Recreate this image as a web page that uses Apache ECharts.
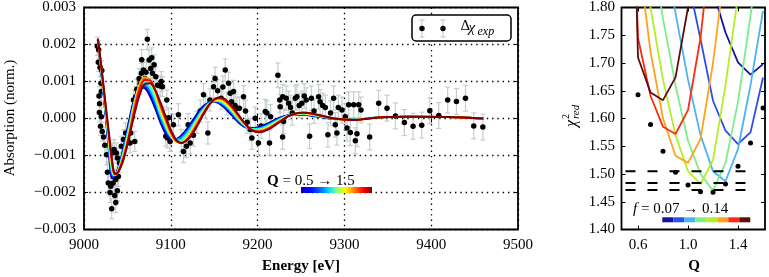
<!DOCTYPE html>
<html><head><meta charset="utf-8">
<script src="https://cdn.jsdelivr.net/npm/echarts@6/dist/echarts.min.js"></script>
<style>html,body{margin:0;padding:0;background:#fff}#c{width:769px;height:277px}</style>
</head><body><div id="c"></div>
<script>
// ---------- LEFT PANEL (absorption values in units of 0.001) ----------
const ENERGY = [9016,9020,9024,9028,9030,9032,9034,9036,9040,9046,9052,9058,9064,9070,9076,9082,9088,9094,9100,9106,9112,9120,9128,9136,9144,9150,9156,9162,9170,9178,9186,9194,9202,9212,9224,9238,9252,9268,9288,9310,9340,9375,9420,9460];
const FIT_Q0500 = [2.15,1.22,0.28,-0.72,-1.30,-1.62,-1.60,-1.54,-1.30,-0.72,-0.04,0.54,0.84,0.82,0.60,0.27,-0.11,-0.41,-0.57,-0.56,-0.46,-0.23,0.05,0.30,0.44,0.46,0.40,0.29,0.09,-0.11,-0.24,-0.26,-0.22,-0.13,0.01,0.10,0.10,0.05,-0.01,-0.03,0.03,0.05,0.04,0.00];
const FIT_Q0625 = [2.15,1.24,0.32,-0.66,-1.22,-1.55,-1.58,-1.54,-1.32,-0.76,-0.10,0.50,0.83,0.85,0.66,0.34,-0.04,-0.35,-0.54,-0.56,-0.49,-0.27,0.01,0.27,0.43,0.47,0.42,0.32,0.12,-0.08,-0.23,-0.27,-0.24,-0.15,-0.01,0.10,0.11,0.06,-0.01,-0.03,0.03,0.05,0.04,0.00];
const FIT_Q0750 = [2.15,1.27,0.35,-0.60,-1.14,-1.48,-1.55,-1.53,-1.33,-0.81,-0.16,0.46,0.84,0.90,0.74,0.43,0.03,-0.29,-0.51,-0.56,-0.51,-0.31,-0.04,0.24,0.42,0.48,0.44,0.35,0.16,-0.06,-0.22,-0.28,-0.26,-0.17,-0.02,0.10,0.12,0.07,-0.01,-0.03,0.03,0.05,0.04,0.00];
const FIT_Q0875 = [2.15,1.29,0.39,-0.54,-1.06,-1.41,-1.53,-1.53,-1.35,-0.85,-0.22,0.43,0.86,0.96,0.83,0.51,0.10,-0.23,-0.49,-0.59,-0.57,-0.37,-0.08,0.20,0.41,0.48,0.46,0.38,0.19,-0.03,-0.21,-0.29,-0.28,-0.19,-0.04,0.10,0.12,0.07,-0.01,-0.03,0.03,0.05,0.04,0.00];
const FIT_Q1000 = [2.15,1.31,0.42,-0.49,-0.98,-1.34,-1.50,-1.52,-1.37,-0.90,-0.28,0.41,0.89,1.03,0.93,0.60,0.17,-0.18,-0.47,-0.62,-0.61,-0.43,-0.13,0.17,0.40,0.49,0.49,0.41,0.22,0.00,-0.20,-0.30,-0.30,-0.22,-0.06,0.10,0.13,0.08,0.00,-0.03,0.03,0.05,0.04,0.00];
const FIT_Q1125 = [2.15,1.33,0.46,-0.43,-0.89,-1.26,-1.48,-1.52,-1.38,-0.94,-0.33,0.38,0.93,1.11,1.04,0.69,0.23,-0.12,-0.44,-0.63,-0.65,-0.47,-0.17,0.14,0.39,0.50,0.51,0.44,0.25,0.02,-0.18,-0.30,-0.31,-0.24,-0.07,0.09,0.14,0.09,0.00,-0.04,0.03,0.05,0.04,0.00];
const FIT_Q1250 = [2.15,1.36,0.49,-0.37,-0.81,-1.19,-1.45,-1.51,-1.40,-0.98,-0.39,0.32,0.88,1.10,1.06,0.75,0.30,-0.06,-0.41,-0.62,-0.66,-0.51,-0.21,0.11,0.38,0.51,0.53,0.47,0.29,0.05,-0.17,-0.31,-0.33,-0.26,-0.09,0.09,0.15,0.10,0.00,-0.04,0.03,0.05,0.04,0.00];
const FIT_Q1375 = [2.15,1.38,0.53,-0.31,-0.73,-1.12,-1.43,-1.51,-1.41,-1.03,-0.45,0.22,0.78,1.04,1.03,0.77,0.37,0.00,-0.36,-0.60,-0.67,-0.54,-0.26,0.07,0.37,0.51,0.55,0.50,0.32,0.07,-0.16,-0.32,-0.35,-0.28,-0.10,0.09,0.15,0.10,0.00,-0.04,0.03,0.05,0.04,0.00];
const FIT_Q1500 = [2.15,1.40,0.56,-0.25,-0.65,-1.05,-1.40,-1.50,-1.43,-1.07,-0.51,0.11,0.63,0.93,0.95,0.77,0.44,0.06,-0.31,-0.57,-0.66,-0.56,-0.30,0.04,0.36,0.52,0.57,0.53,0.35,0.10,-0.15,-0.33,-0.37,-0.30,-0.12,0.09,0.16,0.11,0.00,-0.04,0.03,0.05,0.04,0.00];
const FIT_COLORS = ['#000080','#0000ff','#0080ff','#00ffff','#80ff80','#ffff00','#ff8000','#ff0000','#800000'];

const EXP_ENERGY = [9015.4,9016.9,9016.5,9018.5,9020.5,9019.5,9020.0,9017.3,9018.0,9017.7,9020.0,9019.0,9021.0,9022.5,9024.0,9026.0,9028.8,9032.7,9034.6,9037.3,9038.5,9028.0,9030.8,9033.5,9036.5,9039.6,9030.0,9035.4,9036.6,9038.5,9031.9,9027.0,9041.0,9043.0,9045.4,9048.0,9050.0,9053.0,9053.8,9055.8,9058.5,9057.0,9057.7,9059.6,9060.8,9063.5,9064.6,9066.2,9066.5,9068.5,9070.4,9071.5,9073.0,9075.0,9076.9,9078.0,9078.8,9080.8,9082.7,9084.6,9087.7,9089.0,9090.4,9092.3,9094.2,9095.4,9096.2,9097.6,9099.2,
9103.0,9108.8,9112.0,9114.6,9118.0,9120.0,9122.3,9126.0,9130.0,9134.0,9137.7,9140.0,9142.7,9145.0,9149.2,9151.0,9154.0,9158.0,9160.0,9162.7,9164.5,9166.5,9168.4,9170.0,9172.3,9174.0,9176.1,9179.0,9183.8,9186.0,9188.0,9191.5,9193.4,9197.2,
9201.0,9204.0,9208.8,9210.7,9213.7,9215.0,9223.4,9225.5,9226.0,9228.8,9229.0,9229.9,9233.0,9235.7,9238.0,9240.0,9243.4,9245.3,9248.0,9251.0,9253.7,9256.0,9259.9,9262.0,9265.0,9270.3,9272.0,9275.0,9278.0,9281.0,9284.0,9287.6,9289.5,9291.4,9293.0,
9297.2,9301.0,9303.0,9304.9,9306.8,9310.7,9312.6,9314.5,9316.5,9319.1,9329.1,9339.5,9349.1,9358.8,9369.1,9379.1,9389.1,9398.4,9408.7,9419.0,9429.1,9439.5,9449.0,9459.5];
const EXP_ABS = [1.95,1.86,1.52,1.38,1.30,0.95,0.73,0.61,0.40,0.16,0.05,-0.21,-0.35,-0.50,-0.72,-0.98,-0.98,-0.93,-0.84,-0.93,-1.07,-1.74,-1.83,-1.74,-1.65,-1.57,-2.00,-2.08,-2.27,-1.95,-2.44,-1.45,-1.20,-0.75,-0.57,-0.39,-0.55,-0.66,-0.39,0.05,-0.62,0.50,0.30,0.59,0.79,1.08,0.93,1.22,1.59,1.31,1.08,1.25,2.14,1.58,1.35,1.64,1.22,1.45,1.13,0.90,0.88,1.00,0.86,0.05,-0.48,0.50,-0.53,0.02,-0.62,
-0.17,0.10,-0.60,-0.89,-0.75,-0.17,-0.66,-0.45,-0.10,0.20,0.64,0.30,-0.39,0.50,0.86,1.08,0.75,0.55,0.85,1.31,0.40,0.95,0.68,0.45,0.73,0.35,0.28,0.28,0.59,0.20,-0.10,-0.30,-0.53,0.01,
-0.66,-0.20,0.19,0.15,-0.66,0.05,1.17,0.50,0.32,-0.50,0.59,-0.08,0.55,0.41,0.30,0.15,0.55,0.59,0.35,0.41,0.61,0.50,-0.48,0.55,0.20,0.59,0.45,0.35,0.30,-0.44,0.15,0.55,-0.17,-0.39,0.30,
0.23,0.05,-0.26,0.37,-0.38,0.37,-0.60,-0.41,0.37,0.23,-0.50,0.41,0.28,0.07,-0.11,-0.21,-0.18,0.21,0.08,0.50,0.46,0.55,-0.20,-0.23];
const EXP_ERR = [0.25,0.25,0.25,0.25,0.25,0.25,0.25,0.25,0.25,0.25,0.25,0.25,0.25,0.25,0.27,0.27,0.27,0.27,0.27,0.27,0.27,0.27,0.27,0.27,0.27,0.27,0.27,0.27,0.27,0.27,0.27,0.27,0.27,0.27,0.27,0.27,0.27,0.27,0.27,0.27,0.27,0.27,0.27,0.27,0.27,0.27,0.27,0.27,0.27,0.27,0.27,0.27,0.27,0.27,0.27,0.27,0.27,0.27,0.27,0.27,0.27,0.27,0.27,0.27,0.27,0.27,0.27,0.27,0.27,
0.3,0.3,0.3,0.3,0.3,0.3,0.3,0.3,0.3,0.3,0.3,0.3,0.3,0.3,0.3,0.3,0.3,0.3,0.3,0.3,0.3,0.3,0.3,0.3,0.3,0.3,0.3,0.3,0.3,0.3,0.3,0.3,0.3,0.3,
0.33,0.33,0.33,0.33,0.33,0.33,0.33,0.33,0.33,0.33,0.33,0.33,0.33,0.33,0.33,0.33,0.33,0.33,0.33,0.33,0.33,0.33,0.33,0.33,0.33,0.33,0.33,0.33,0.33,0.33,0.33,0.33,0.33,0.33,0.33,
0.35,0.35,0.35,0.35,0.35,0.35,0.35,0.35,0.35,0.35,0.35,0.35,0.35,0.35,0.35,0.35,0.35,0.35,0.35,0.35,0.35,0.35,0.35,0.35];

// ---------- RIGHT PANEL ----------
const Q_GRID = [0.5,0.6,0.7,0.8,0.9,1.0,1.1,1.2,1.3,1.4,1.5,1.6];
const CHI_F007 = [null,null,null,null,null,null,null,1.83,1.755,1.701,1.679,1.698];
const CHI_F008 = [null,null,null,null,null,1.85,1.743,1.632,1.578,1.554,1.575,1.674];
const CHI_F009 = [null,null,null,1.92,1.79,1.67,1.57,1.505,1.487,1.545,1.66,1.794];
const CHI_F010 = [null,null,1.92,1.78,1.66,1.56,1.50,1.470,1.52,1.63,1.785,1.95];
const CHI_F011 = [null,2.0,1.80,1.67,1.57,1.505,1.482,1.525,1.66,1.82,2.0,null];
const CHI_F012 = [2.2,1.90,1.72,1.60,1.533,1.520,1.563,1.70,1.88,null,null,null];
const CHI_F013 = [2.4,1.745,1.641,1.585,1.572,1.615,1.745,1.95,null,null,null,null];
const CHI_F014 = [2.6,1.710,1.647,1.633,1.674,1.80,2.0,null,null,null,null,null];
const F_COLORS = ['#12129e','#2b4ee6','#4ab4f2','#7cee8c','#b4ee26','#ffa31a','#ff2a12','#5c0e0e'];
const Q_BEST = [0.6,0.7,0.8,0.9,1.0,1.1,1.2,1.3,1.4,1.5,1.6];
const CHI_BEST = [1.643,1.589,1.541,1.503,1.480,1.468,1.467,1.482,1.514,1.556,1.619];
const CHI_LEVELS = [1.505,1.484,1.471];
const Q_TICKS = [0.6,1.0,1.4];

const FONT = '"Liberation Serif", "DejaVu Serif", serif';
const chart = echarts.init(document.getElementById('c'), null, {renderer:'canvas'});

const fits = [FIT_Q0500,FIT_Q0625,FIT_Q0750,FIT_Q0875,FIT_Q1000,FIT_Q1125,FIT_Q1250,FIT_Q1375,FIT_Q1500];
const chis = [CHI_F007,CHI_F008,CHI_F009,CHI_F010,CHI_F011,CHI_F012,CHI_F013,CHI_F014];

const series = [];
series.push({
  type:'custom', xAxisIndex:0, yAxisIndex:0, z:2, silent:true,
  data: EXP_ENERGY.map((e,k)=>[e, EXP_ABS[k], EXP_ERR[k]]),
  encode:{x:0,y:1},
  renderItem:(params, api)=>{
    const x=api.value(0), y=api.value(1), s=api.value(2);
    const a=api.coord([x,y+s]), b=api.coord([x,y-s]);
    const st={stroke:'#c4cece', lineWidth:1.2};
    return {type:'group', children:[
      {type:'line', shape:{x1:a[0],y1:a[1],x2:b[0],y2:b[1]}, style:st},
      {type:'line', shape:{x1:a[0]-2.5,y1:a[1],x2:a[0]+2.5,y2:a[1]}, style:st},
      {type:'line', shape:{x1:b[0]-2.5,y1:b[1],x2:b[0]+2.5,y2:b[1]}, style:st}
    ]};
  }
});
series.push({
  type:'scatter', xAxisIndex:0, yAxisIndex:0, z:3, silent:true,
  data: EXP_ENERGY.map((e,k)=>[e, EXP_ABS[k]]),
  symbolSize:5.5, itemStyle:{color:'#000', opacity:1}
});
fits.forEach((c,i)=>{
  series.push({
    type:'line', xAxisIndex:0, yAxisIndex:0, z:4, silent:true,
    data: ENERGY.map((e,k)=>[e,c[k]]), smooth:0.35, symbol:'none',
    lineStyle:{color:FIT_COLORS[i], width: i===8 ? 2 : 1.8}
  });
});
chis.forEach((c,i)=>{
  const d=[]; Q_GRID.forEach((q,k)=>{ if(c[k]!==null) d.push([q,c[k]]); });
  series.push({
    type:'line', xAxisIndex:2, yAxisIndex:2, z:4, silent:true,
    data:d, symbol:'none', lineStyle:{color:F_COLORS[i], width:1.8}
  });
});
series.push({
  type:'scatter', xAxisIndex:2, yAxisIndex:2, z:5, silent:true,
  data: Q_BEST.map((q,k)=>[q,CHI_BEST[k]]), symbolSize:5, itemStyle:{color:'#000', opacity:1}
});
CHI_LEVELS.forEach(l=>{
  series.push({
    type:'line', xAxisIndex:2, yAxisIndex:2, z:6, silent:true,
    data:[[0.5,l],[1.5,l]], symbol:'none',
    lineStyle:{color:'#000', width:2, type:[10,12]}
  });
});

const tickStyle = {show:true, inside:true, length:4, lineStyle:{color:'#000', width:1}};
const labelStyle = {color:'#000', fontFamily:FONT, fontSize:15};

const option = {
  animation:false,
  backgroundColor:'#fff',
  grid:[
    {left:84, top:7, width:434, height:222.5, show:true, borderColor:'#000', borderWidth:1.8, backgroundColor:'transparent'},
    {left:621.5, top:7, width:143.5, height:222.5, show:true, borderColor:'#000', borderWidth:1.8, backgroundColor:'transparent'}
  ],
  xAxis:[
    {type:'value', gridIndex:0, min:9000, max:9500, interval:100, position:'bottom',
     axisLine:{show:false}, axisTick:tickStyle, axisLabel:Object.assign({margin:8, formatter:v=>String(v)}, labelStyle),
     splitLine:{show:true, lineStyle:{color:'#000', width:1.3, type:[1.4,3.9]}}},
    {type:'value', gridIndex:0, min:9000, max:9500, interval:100, position:'top',
     axisLine:{show:false}, axisTick:tickStyle, axisLabel:{show:false}, splitLine:{show:false}},
    {type:'value', gridIndex:1, min:0.468, max:1.616, position:'bottom',
     axisLine:{show:false}, axisTick:Object.assign({customValues:Q_TICKS}, tickStyle),
     axisLabel:Object.assign({margin:8, customValues:Q_TICKS, formatter:v=>v.toFixed(1)}, labelStyle),
     splitLine:{show:false}},
    {type:'value', gridIndex:1, min:0.468, max:1.616, position:'top',
     axisLine:{show:false}, axisTick:Object.assign({customValues:Q_TICKS}, tickStyle),
     axisLabel:{show:false}, splitLine:{show:false}}
  ],
  yAxis:[
    {type:'value', gridIndex:0, min:-3, max:3, interval:1, position:'left',
     axisLine:{show:false}, axisTick:tickStyle,
     axisLabel:Object.assign({margin:8, formatter:v=>(v<0?'\u2212':'')+Math.abs(v/1000).toFixed(3)}, labelStyle),
     splitLine:{show:true, lineStyle:{color:'#000', width:1.3, type:[1.4,3.9]}}},
    {type:'value', gridIndex:0, min:-3, max:3, interval:1, position:'right',
     axisLine:{show:false}, axisTick:tickStyle, axisLabel:{show:false}, splitLine:{show:false}},
    {type:'value', gridIndex:1, min:1.40, max:1.80, interval:0.05, position:'left',
     axisLine:{show:false}, axisTick:tickStyle,
     axisLabel:Object.assign({margin:6.5, formatter:v=>v.toFixed(2)}, labelStyle),
     splitLine:{show:false}},
    {type:'value', gridIndex:1, min:1.40, max:1.80, interval:0.05, position:'right',
     axisLine:{show:false}, axisTick:tickStyle, axisLabel:{show:false}, splitLine:{show:false}}
  ],
  series:series,
  graphic:[
    {type:'text', x:10, y:118, rotation:Math.PI/2, z:10,
     style:{text:'Absorption (norm.)', font:'15px '+FONT, fill:'#000', textAlign:'center', textVerticalAlign:'middle'}},
    {type:'text', x:301, y:266, z:10,
     style:{text:'Energy [eV]', font:'bold 15px '+FONT, fill:'#000', textAlign:'center', textVerticalAlign:'middle'}},
    {type:'text', x:694, y:266, z:10,
     style:{text:'Q', font:'bold 15px '+FONT, fill:'#000', textAlign:'center', textVerticalAlign:'middle'}},
    {type:'group', x:572, y:119, rotation:Math.PI/2, z:10, children:[
      {type:'text', x:-1, y:0, style:{text:'\u03c7', font:'italic 16px '+FONT, fill:'#000', textAlign:'right', textVerticalAlign:'middle'}},
      {type:'text', x:0, y:-6, style:{text:'2', font:'10px '+FONT, fill:'#000', textAlign:'left', textVerticalAlign:'middle'}},
      {type:'text', x:0, y:4, style:{text:'red', font:'italic 11px '+FONT, fill:'#000', textAlign:'left', textVerticalAlign:'middle'}}
    ]},
    // legend
    {type:'rect', z:20, shape:{x:412, y:15, width:99, height:26, r:4}, style:{fill:'#fff', stroke:'#000', lineWidth:1.5}},
    {type:'line', z:21, shape:{x1:422,y1:20,x2:422,y2:37}, style:{stroke:'#c4cece', lineWidth:1.2}},
    {type:'line', z:21, shape:{x1:419.5,y1:20,x2:424.5,y2:20}, style:{stroke:'#c4cece', lineWidth:1.2}},
    {type:'line', z:21, shape:{x1:419.5,y1:37,x2:424.5,y2:37}, style:{stroke:'#c4cece', lineWidth:1.2}},
    {type:'line', z:21, shape:{x1:443,y1:20,x2:443,y2:37}, style:{stroke:'#c4cece', lineWidth:1.2}},
    {type:'line', z:21, shape:{x1:440.5,y1:20,x2:445.5,y2:20}, style:{stroke:'#c4cece', lineWidth:1.2}},
    {type:'line', z:21, shape:{x1:440.5,y1:37,x2:445.5,y2:37}, style:{stroke:'#c4cece', lineWidth:1.2}},
    {type:'circle', z:22, shape:{cx:422, cy:28.5, r:2.7}, style:{fill:'#000'}},
    {type:'circle', z:22, shape:{cx:443, cy:28.5, r:2.7}, style:{fill:'#000'}},
    {type:'text', z:22, x:460.5, y:26.5, style:{text:'\u0394', font:'15px '+FONT, fill:'#000', textAlign:'left', textVerticalAlign:'middle'}},
    {type:'text', z:22, x:468.5, y:28, style:{text:'\u03c7', font:'italic 15px '+FONT, fill:'#000', textAlign:'left', textVerticalAlign:'middle'}},
    {type:'text', z:22, x:477.5, y:31.5, style:{text:'exp', font:'italic 12px '+FONT, fill:'#000', textAlign:'left', textVerticalAlign:'middle'}},
    // Q colorbar
    {type:'text', z:22, x:267, y:181, style:{text:'{b|Q} = 0.5 \u2192 1.5', font:'15px '+FONT, fill:'#000', textAlign:'left', textVerticalAlign:'middle',
      rich:{b:{fontWeight:'bold', fontFamily:FONT, fontSize:15}}}},
    {type:'rect', z:21, shape:{x:301, y:187, width:71, height:6},
     style:{fill:new echarts.graphic.LinearGradient(0,0,1,0,[
       {offset:0,color:'#0000b4'},{offset:0.12,color:'#0000ff'},{offset:0.3,color:'#0080ff'},{offset:0.4,color:'#00e0ff'},
       {offset:0.5,color:'#80ff80'},{offset:0.62,color:'#ffff00'},{offset:0.75,color:'#ff8000'},{offset:0.88,color:'#ff0000'},{offset:1,color:'#800000'}])}},
    // f colorbar
    {type:'text', z:22, x:633, y:209, style:{text:'{i|f} = 0.07 \u2192 0.14', font:'15px '+FONT, fill:'#000', textAlign:'left', textVerticalAlign:'middle',
      rich:{i:{fontStyle:'italic', fontFamily:FONT, fontSize:15}}}}
  ].concat(F_COLORS.map((c,i)=>({type:'rect', z:21, shape:{x:662.3+i*11, y:217.3, width:11, height:5}, style:{fill:c}})))
};
chart.setOption(option);
</script>
</body></html>
